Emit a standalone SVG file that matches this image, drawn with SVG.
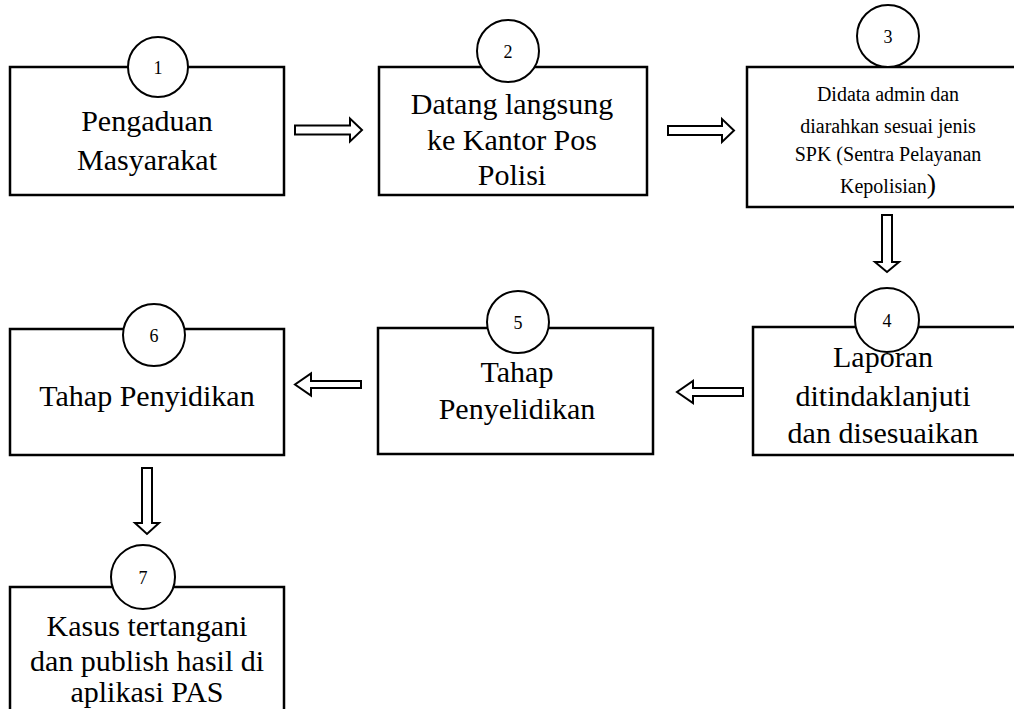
<svg xmlns="http://www.w3.org/2000/svg" width="1014" height="709" viewBox="0 0 1014 709">
<style>
.box{fill:#fff;stroke:#000;stroke-width:2.5}
.circ{fill:#fff;stroke:#000;stroke-width:2}
.arr{fill:#fff;stroke:#000;stroke-width:2;stroke-linejoin:miter}
.t{font-family:"Liberation Serif","Times New Roman",serif;font-size:30px;fill:#000;text-anchor:middle}
.s{font-family:"Liberation Serif","Times New Roman",serif;font-size:20px;fill:#000;text-anchor:middle}
.n{font-family:"Liberation Serif","Times New Roman",serif;font-size:18px;fill:#000;text-anchor:middle}
</style>
<rect width="1014" height="709" fill="#fff"/>
<g id="connectors">
<polygon class="arr" points="295,125.5 350,125.5 350,118.5 362,130 350,141.5 350,134.5 295,134.5"/>
<polygon class="arr" points="668,126 722,126 722,119 734,130.5 722,142 722,135 668,135"/>
<polygon class="arr" points="882,215 892,215 892,262 899,262 887,272 875,262 882,262"/>
<polygon class="arr" points="743,388 693,388 693,381 677,392 693,403 693,396 743,396"/>
<polygon class="arr" points="361,381 311,381 311,373.5 295,384.5 311,395.5 311,388 361,388"/>
<polygon class="arr" points="142,468 152,468 152,523 159,523 147,534 135,523 142,523"/>
</g>
<g id="node1">
<rect class="box" x="10" y="67" width="274" height="128"/>
<circle class="circ" cx="158" cy="67" r="30"/>
<text class="n" x="158" y="74" font-size="16">1</text>
<text class="t" x="147" y="131">Pengaduan</text>
<text class="t" x="147" y="170">Masyarakat</text>
</g>
<g id="node2">
<rect class="box" x="379" y="67" width="268" height="128"/>
<circle class="circ" cx="508" cy="51" r="31"/>
<text class="n" x="508" y="58">2</text>
<text class="t" x="512" y="114">Datang langsung</text>
<text class="t" x="512" y="150">ke Kantor Pos</text>
<text class="t" x="512" y="185">Polisi</text>
</g>
<g id="node3">
<rect class="box" x="747" y="67" width="280" height="140"/>
<circle class="circ" cx="888" cy="36" r="31"/>
<text class="n" x="888" y="43">3</text>
<text class="s" x="888" y="101">Didata admin dan</text>
<text class="s" x="888" y="133">diarahkan sesuai jenis</text>
<text class="s" x="888" y="161">SPK (Sentra Pelayanan</text>
<text class="s" x="888" y="193">Kepolisian<tspan font-size="28">)</tspan></text>
</g>
<g id="node4">
<rect class="box" x="753" y="327" width="280" height="128"/>
<circle class="circ" cx="887" cy="320" r="32"/>
<text class="n" x="887" y="327" font-family="Liberation Sans">4</text>
<text class="t" x="883" y="367">Laporan</text>
<text class="t" x="883" y="406">ditindaklanjuti</text>
<text class="t" x="883" y="443">dan disesuaikan</text>
</g>
<g id="node5">
<rect class="box" x="378" y="328" width="275" height="126"/>
<circle class="circ" cx="518" cy="322" r="31"/>
<text class="n" x="518" y="329">5</text>
<text class="t" x="517" y="382">Tahap</text>
<text class="t" x="517" y="419">Penyelidikan</text>
</g>
<g id="node6">
<rect class="box" x="10" y="329" width="274" height="126"/>
<circle class="circ" cx="154" cy="335" r="31"/>
<text class="n" x="154" y="342">6</text>
<text class="t" x="147" y="406">Tahap Penyidikan</text>
</g>
<g id="node7">
<rect class="box" x="10" y="587" width="274" height="140"/>
<circle class="circ" cx="143" cy="577" r="32"/>
<text class="n" x="143" y="584">7</text>
<text class="t" x="147" y="636">Kasus tertangani</text>
<text class="t" x="147" y="671">dan publish hasil di</text>
<text class="t" x="147" y="702">aplikasi PAS</text>
</g>
</svg>
